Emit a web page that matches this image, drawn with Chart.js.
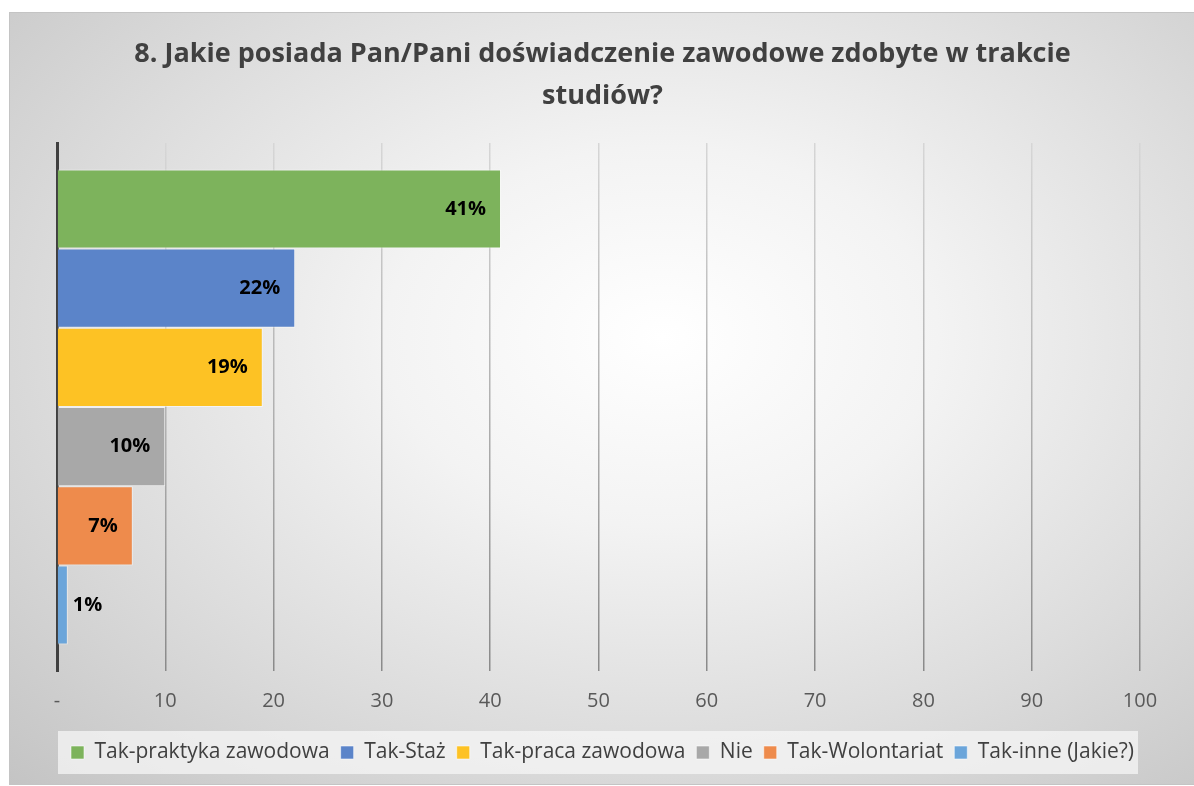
<!DOCTYPE html>
<html lang="pl">
<head>
<meta charset="utf-8">
<title>Doświadczenie zawodowe</title>
<script src="https://cdn.jsdelivr.net/npm/chart.js@4.4.1/dist/chart.umd.min.js"></script>
<style>
  html, body { margin: 0; padding: 0; background: #ffffff; overflow: hidden; }
  #frame {
    position: absolute;
    left: 9px;
    top: 12px;
    width: 1185px;
    height: 771px;
    border: 1px solid #c4c4c4;
    background: radial-gradient(ellipse farthest-corner at 55% 42%, #ffffff 0%, #f3f3f3 30%, #dcdcdc 65%, #c4c4c4 100%);
  }
</style>
</head>
<body>
<div id="frame"><canvas id="chart"></canvas></div>
<script>
// Values (percent of respondents).
const seriesNames = ['Tak-praktyka zawodowa', 'Tak-Staż', 'Tak-praca zawodowa', 'Nie', 'Tak-Wolontariat', 'Tak-inne (Jakie?)'];
const seriesValues = [41, 22, 19, 10, 7, 1];
const seriesColors = ['#7db35c', '#5b84c9', '#fdc224', '#a8a8a8', '#ee8b4c', '#6ba5da'];
const categories = [''];
const titleLines = ['8. Jakie posiada Pan/Pani doświadczenie zawodowe zdobyte w trakcie', 'studiów?'];

const FONT = '"Open Sans", "Noto Sans", sans-serif';

// light panel behind the legend entries
const legendPanel = {
  id: 'legendPanel',
  beforeDraw(chart) {
    const boxes = chart.legend && chart.legend.legendHitBoxes;
    if (!boxes || !boxes.length) {
      return;
    }
    let left = Infinity;
    let right = -Infinity;
    let top = Infinity;
    let bottom = -Infinity;
    boxes.forEach((b) => {
      left = Math.min(left, b.left);
      right = Math.max(right, b.left + b.width);
      top = Math.min(top, b.top);
      bottom = Math.max(bottom, b.top + b.height);
    });
    const ctx = chart.ctx;
    ctx.save();
    ctx.fillStyle = 'rgba(245,245,245,0.75)';
    ctx.fillRect(left - 13, top - 11, right - left + 17, bottom - top + 22);
    ctx.restore();
  }
};

// percentage labels at the end of each bar
const barLabels = {
  id: 'barLabels',
  afterDatasetsDraw(chart) {
    const ctx = chart.ctx;
    ctx.save();
    ctx.font = 'bold 20px ' + FONT;
    ctx.fillStyle = '#000000';
    ctx.textBaseline = 'middle';
    chart.data.datasets.forEach((ds, i) => {
      const meta = chart.getDatasetMeta(i);
      meta.data.forEach((bar, j) => {
        const text = ds.data[j] + '%';
        const w = ctx.measureText(text).width;
        if (bar.x - bar.base > w + 24) {
          ctx.textAlign = 'right';
          ctx.fillText(text, bar.x - 15, bar.y);
        } else {
          ctx.textAlign = 'left';
          ctx.fillText(text, bar.x + 5, bar.y);
        }
      });
    });
    ctx.restore();
  }
};

function gridColor(context) {
  const area = context.chart.chartArea;
  if (!area) {
    return '#bfbfbf';
  }
  const g = context.chart.ctx.createLinearGradient(0, area.top, 0, area.bottom);
  g.addColorStop(0, '#d6d6d6');
  g.addColorStop(1, '#8a8a8a');
  return g;
}

const datasets = seriesNames.map((name, i) => ({
  label: name,
  data: [seriesValues[i]],
  backgroundColor: seriesColors[i],
  borderColor: 'rgba(255,255,255,0.55)',
  borderWidth: 1,
  barPercentage: 1,
  categoryPercentage: 0.9
}));

new Chart(document.getElementById('chart'), {
  type: 'bar',
  data: { labels: categories, datasets },
  options: {
    indexAxis: 'y',
    responsive: true,
    maintainAspectRatio: false,
    animation: false,
    layout: { padding: { left: 0, right: 0, top: 0, bottom: 11 } },
    scales: {
      x: {
        min: 0,
        max: 100,
        ticks: {
          stepSize: 10,
          padding: 18,
          color: '#595959',
          font: { family: FONT, size: 20 },
          callback: (v) => (v === 0 ? '-' : v)
        },
        grid: { color: gridColor, lineWidth: 1.5, drawTicks: false },
        border: { display: false }
      },
      y: {
        ticks: { display: false },
        grid: { display: false, drawTicks: false },
        border: { display: true, color: '#404040', width: 3 },
        afterFit: (scale) => { scale.width = 47; }
      },
      yRight: {
        position: 'right',
        ticks: { display: false },
        grid: { display: false, drawTicks: false },
        border: { display: false },
        afterFit: (scale) => { scale.width = 55; }
      }
    },
    plugins: {
      title: {
        display: true,
        text: titleLines,
        color: '#404040',
        font: { family: FONT, size: 27, weight: 'bold', lineHeight: '42px' },
        padding: { top: 20, bottom: 26 }
      },
      legend: {
        position: 'bottom',
        labels: {
          color: '#404040',
          font: { family: FONT, size: 21 },
          boxWidth: 13,
          boxHeight: 13,
          padding: 11
        }
      },
      tooltip: { enabled: false }
    }
  },
  plugins: [legendPanel, barLabels]
});
</script>
</body>
</html>
